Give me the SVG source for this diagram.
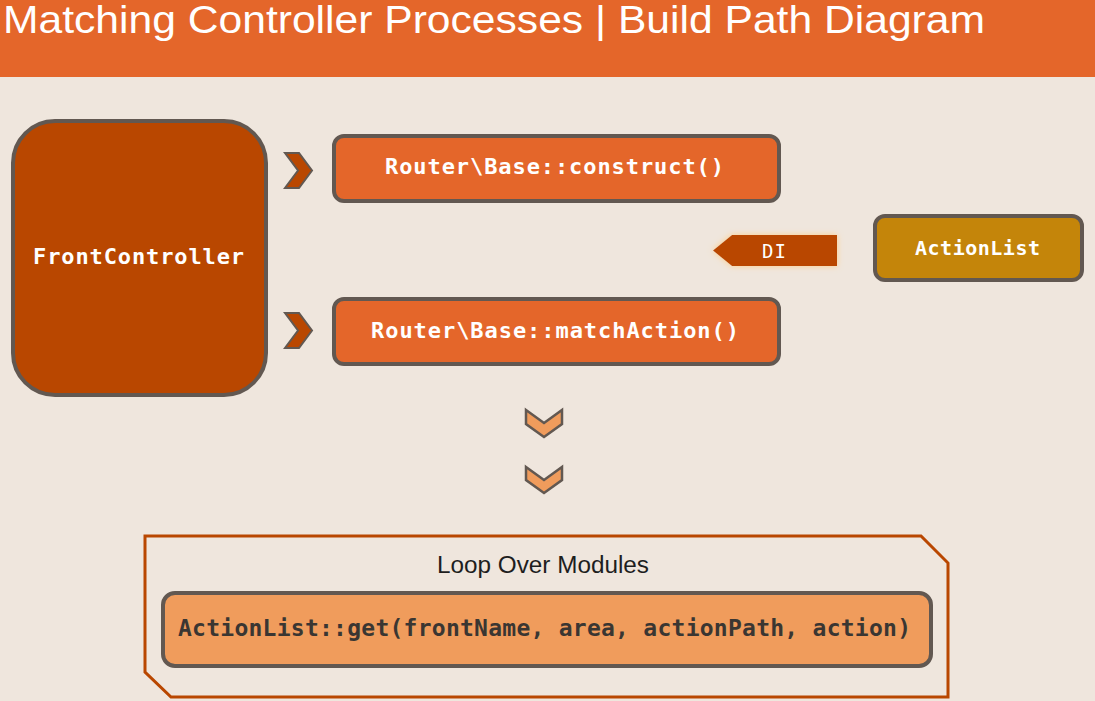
<svg xmlns="http://www.w3.org/2000/svg" width="1095" height="701" viewBox="0 0 1095 701">
<defs>
<style>
.mono{font-family:"DejaVu Sans Mono","Liberation Mono",monospace;font-weight:bold;fill:#FFFFFF;}
.box{stroke:#625851;stroke-width:4;}
.chev{fill:#B94700;stroke:#625851;stroke-width:2;stroke-linejoin:miter;}
.chevd{fill:#F09C5C;stroke:#625851;stroke-width:2.5;}
</style>
<filter id="glow" x="-20%" y="-40%" width="140%" height="180%">
<feDropShadow dx="0" dy="0" stdDeviation="3" flood-color="#FFCC80" flood-opacity="0.9"/>
</filter>
</defs>
<rect x="0" y="0" width="1095" height="701" fill="#EFE6DD"/>
<g id="header">
<rect x="0" y="0" width="1095" height="77" fill="#E4662A"/>
<text x="3" y="33" font-family="Liberation Sans, Arial, sans-serif" font-size="39" fill="#FFFFFF" textLength="982" lengthAdjust="spacingAndGlyphs">Matching Controller Processes | Build Path Diagram</text>
</g>
<g id="connectors">
<polygon class="chev" points="285,153 299,153 312,170.5 299,188 285,188 298,170.5"/>
<polygon class="chev" points="285,313 299,313 312,330.5 299,348 285,348 298,330.5"/>
<polygon class="chevd" points="526,410 544,423 562,410 562,424 544,437 526,424"/>
<polygon class="chevd" points="526,467 544,480 562,467 562,480 544,493 526,480"/>
<g id="di">
<polygon points="713,250.5 732,235 837,235 837,266 732,266" fill="#B94700" filter="url(#glow)"/>
<text x="762" y="258" font-family="DejaVu Sans Mono, Liberation Mono, monospace" font-size="19" fill="#FFFFFF" textLength="24">DI</text>
</g>
</g>
<g id="frontcontroller">
<rect class="box" x="13" y="121" width="253" height="274" rx="42" fill="#B94700"/>
<text class="mono" x="33" y="264" font-size="22" textLength="211">FrontController</text>
</g>
<g id="construct">
<rect class="box" x="334" y="136" width="445" height="65" rx="10" fill="#E4662A"/>
<text class="mono" x="385" y="174" font-size="22" textLength="339">Router\Base::construct()</text>
</g>
<g id="matchaction">
<rect class="box" x="334" y="299" width="445" height="65" rx="10" fill="#E4662A"/>
<text class="mono" x="371" y="338" font-size="22" textLength="368">Router\Base::matchAction()</text>
</g>
<g id="actionlist">
<rect class="box" x="875" y="216" width="207" height="64" rx="10" fill="#C4850A"/>
<text class="mono" x="915" y="255" font-size="20" textLength="125">ActionList</text>
</g>
<g id="loop">
<polygon points="145,536 921,536 948,563 948,697 171,697 145,672" fill="none" stroke="#B94700" stroke-width="3"/>
<text x="437" y="573" font-family="Liberation Sans, Arial, sans-serif" font-size="23" fill="#1E1E1E" textLength="212" lengthAdjust="spacingAndGlyphs">Loop Over Modules</text>
</g>
<g id="get">
<rect class="box" x="163" y="593" width="768" height="73" rx="12" fill="#F09C5C"/>
<text class="mono" x="178" y="636" font-size="23" style="fill:#3A3632" textLength="733">ActionList::get(frontName, area, actionPath, action)</text>
</g>
</svg>
